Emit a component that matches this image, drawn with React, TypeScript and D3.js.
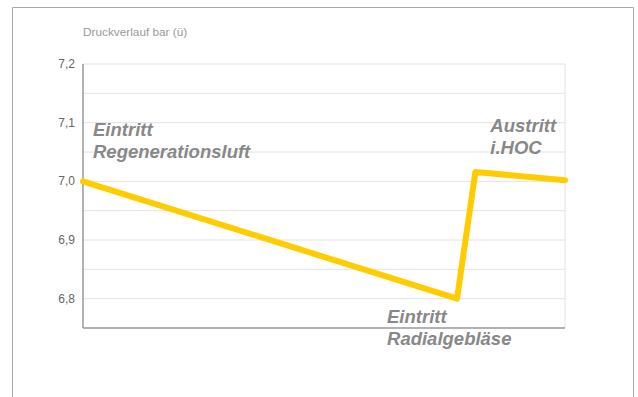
import React from "react";
import * as d3 from "d3";

const xValues: number[] = [0, 3.88, 4.07, 5];
const pressure: number[] = [7.0, 6.8, 7.016, 7.002];
const yTicks: number[] = [6.8, 6.9, 7.0, 7.1, 7.2];
const yGrid: number[] = [6.8, 6.85, 6.9, 6.95, 7.0, 7.05, 7.1, 7.15, 7.2];
const title = "Druckverlauf bar (ü)";
const annotations = [
  { lines: ["Eintritt", "Regenerationsluft"], x: 0, y: 7.078, dx: 10 },
  { lines: ["Eintritt", "Radialgebläse"], x: 3.88, y: 6.758, dx: -70 },
  { lines: ["Austritt", "i.HOC"], x: 4.07, y: 7.084, dx: 15 },
];

export default function App() {
  const W = 638;
  const H = 397;
  const left = 83, right = 565, top = 64, bottom = 328;
  const x = d3.scaleLinear().domain([0, 5]).range([left, right]);
  const y = d3.scaleLinear().domain([6.75, 7.2]).range([bottom, top]);
  const line = d3
    .line<number>()
    .x((_, i) => x(xValues[i]))
    .y((d) => y(d));
  const fmt = (v: number) => v.toFixed(1).replace(".", ",");
  const font = "'Liberation Sans', Arial, Helvetica, sans-serif";
  return (
    <svg
      width={W}
      height={H}
      style={{ position: "absolute", left: 0, top: 0, background: "#fff" }}
      fontFamily={font}
    >
      <path d={`M12.5,${H} V7.5 H633.5 V${H}`} fill="none" stroke="#aaa" strokeWidth={1} />
      <text x={left} y={36} fontSize={11.8} fill="#999">
        {title}
      </text>
      {yGrid.map((v) => (
        <line key={v} x1={left} x2={right} y1={y(v)} y2={y(v)} stroke="#e2e2e2" strokeWidth={1} />
      ))}
      <line x1={right} x2={right} y1={top} y2={bottom} stroke="#e2e2e2" strokeWidth={1} />
      {yTicks.map((v) => (
        <text key={v} x={75} y={y(v) + 4} fontSize={12} fill="#666" textAnchor="end">
          {fmt(v)}
        </text>
      ))}
      <line x1={left} x2={left} y1={top} y2={bottom} stroke="#999" strokeWidth={1.5} />
      <line x1={left} x2={right} y1={bottom} y2={bottom} stroke="#999" strokeWidth={1.5} />
      <path
        d={line(pressure) || ""}
        fill="none"
        stroke="#FFCC00"
        strokeWidth={6}
        strokeLinejoin="round"
        strokeLinecap="round"
      />
      {annotations.map((a, i) => (
        <text
          key={i}
          x={x(a.x) + a.dx}
          y={y(a.y)}
          fontSize={18.5}
          fontWeight="bold"
          fontStyle="italic"
          fill="#888"
        >
          {a.lines.map((l, j) => (
            <tspan key={j} x={x(a.x) + a.dx} dy={j === 0 ? 0 : 22}>
              {l}
            </tspan>
          ))}
        </text>
      ))}
    </svg>
  );
}
